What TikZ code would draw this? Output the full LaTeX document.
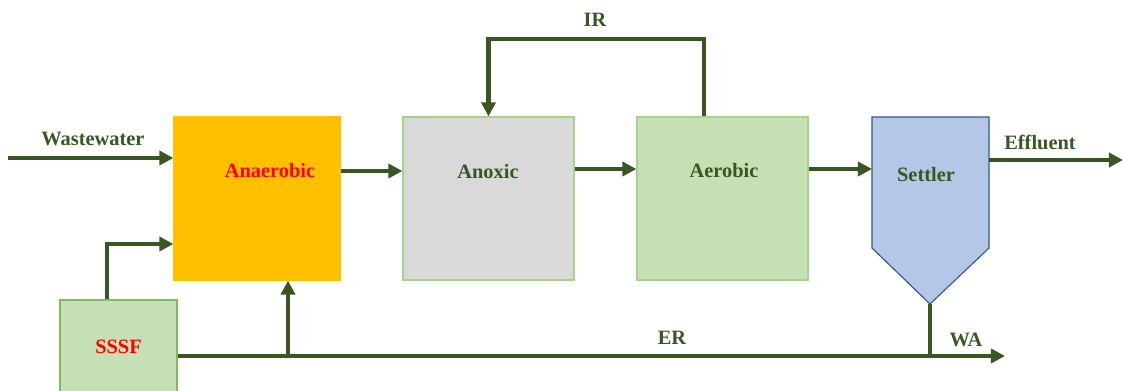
\documentclass[tikz,border=0pt]{standalone}
\usepackage{fontspec}
\setmainfont{Liberation Serif}
\usetikzlibrary{arrows.meta,positioning,calc}

\definecolor{flowgreen}{RGB}{56,87,35}
\definecolor{anaerfill}{RGB}{255,192,0}
\definecolor{anoxfill}{RGB}{217,217,217}
\definecolor{aerfill}{RGB}{197,224,180}
\definecolor{boxline}{RGB}{169,209,142}
\definecolor{sssfline}{RGB}{130,186,100}
\definecolor{setlfill}{RGB}{180,199,231}
\definecolor{setlline}{RGB}{47,85,151}

\tikzset{
  tank/.style={draw=boxline, line width=0.8pt, minimum height=4.075cm, inner sep=0pt},
  flow/.style={draw=flowgreen, line width=3.2pt, -{Triangle[length=10pt,width=10pt]}},
  pipe/.style={draw=flowgreen, line width=3.2pt},
  lbl/.style={font=\fontsize{14.5}{16}\selectfont\bfseries, text=flowgreen, inner sep=1pt},
  redlbl/.style={lbl, text=red}
}

\begin{document}
\begin{tikzpicture}[x=0.025cm, y=-0.025cm]
    \useasboundingbox (0,0) rectangle (1123,390);

    % reactors
    \node[tank, fill=anaerfill, draw=anaerfill, minimum width=4.15cm] (anaer) at (257,198.5) {};
    \node[tank, fill=anoxfill, minimum width=4.275cm] (anox) at (488.5,198.5) {};
    \node[tank, fill=aerfill, minimum width=4.275cm] (aer) at (722.5,198.5) {};
    \node[redlbl] (anaer-t) at (270,171) {Anaerobic};
    \node[lbl] (anox-t) at (488,172) {Anoxic};
    \node[lbl] (aer-t) at (724,171) {Aerobic};

    % settler
    \draw[fill=setlfill, draw=setlline, line width=0.8pt]
        (872,117) -- (989,117) -- (989,248) -- (930,304) -- (872,248) -- cycle;
    \coordinate (setl-in) at (872,169);
    \coordinate (setl-out) at (989,160);
    \coordinate (setl-bot) at (930,304);
    \node[lbl] (setl-t) at (926,175) {Settler};

    % SSSF
    \node[draw=sssfline, fill=aerfill, line width=0.8pt, minimum width=2.925cm, minimum height=2.35cm,
          inner sep=0pt, font=\fontsize{14.5}{16}\selectfont\bfseries, text=red] (sssf) at (118.5,347) {SSSF};

    % points of the pipes
    \coordinate (ww) at (8,158);
    \coordinate (feed) at (107,244);
    \coordinate (er-end) at (1005,356);
    \coordinate (er-up) at (288,356);
    \coordinate (ir-r) at (704,39);
    \coordinate (ir-l) at (488.5,39);
    \coordinate (eff) at (1123,160);

    % flows
    \draw[flow] (ww) -- (ww -| anaer.west);
    \draw[flow] (anaer.east |- anaer-t) -- (anox.west |- anaer-t);
    \draw[flow] (anox.east |- 0,169) -- (aer.west |- 0,169);
    \draw[flow] (aer.east |- setl-in) -- (setl-in);
    \draw[flow] (setl-out) -- (eff);
    \draw[flow] (ir-r |- aer.north) -- (ir-r) -- (ir-l) -- (anox.north);
    \draw[flow] (feed |- sssf.north) -- (feed) -- (feed -| anaer.west);
    \draw[flow] (sssf.east |- er-end) -- (er-end);
    \draw[flow] (er-up) -- (er-up |- anaer.south);
    \draw[pipe] (setl-bot) -- (setl-bot |- er-end);

    % labels
    \node[lbl] (ww-t) at (93,139) {Wastewater};
    \node[lbl] (ir-t) at (595,20) {IR};
    \node[lbl] (eff-t) at (1040,142) {Effluent};
    \node[lbl] (er-t) at (672,338) {ER};
    \node[lbl] (wa-t) at (966,340) {WA};
\end{tikzpicture}
\end{document}
